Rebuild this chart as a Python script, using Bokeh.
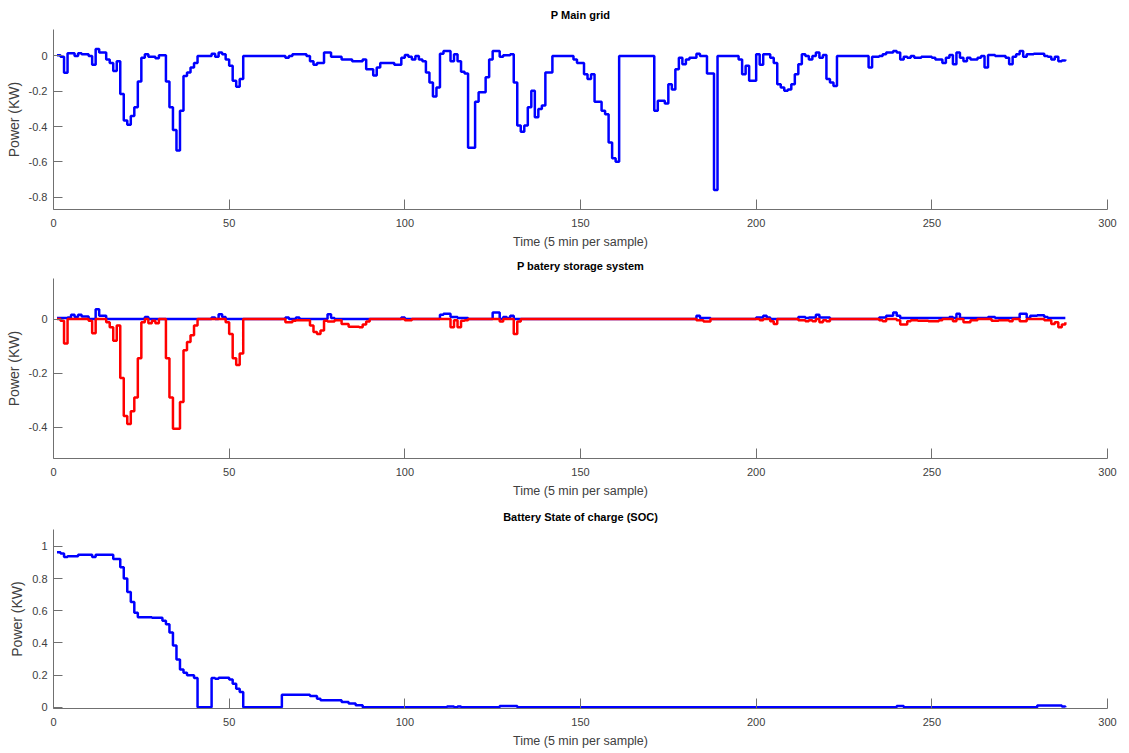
from bokeh.plotting import figure
from bokeh.layouts import column
from bokeh.models import Range1d, FixedTicker
from bokeh.embed import file_html
from bokeh.resources import INLINE

# sample numbers (5 min per sample) where each stairs series changes
grid_t = [1, 2, 3, 4, 6, 7, 8, 10, 11, 12, 13, 15, 16, 17, 18, 19, 20, 21, 22, 23,
          24, 25, 26, 27, 29, 30, 32, 33, 34, 35, 36, 37, 38, 39, 40, 41, 45, 46, 47, 48,
          49, 50, 51, 52, 53, 54, 66, 67, 68, 72, 73, 74, 75, 77, 79, 82, 85, 88, 89, 91,
          92, 93, 97, 99, 100, 101, 102, 103, 104, 105, 106, 107, 108, 109, 110, 111, 113, 114, 115, 116,
          117, 118, 120, 121, 123, 124, 125, 127, 128, 130, 131, 132, 133, 134, 135, 136, 137, 138, 139, 140,
          142, 148, 149, 151, 152, 153, 154, 156, 157, 158, 159, 160, 161, 171, 172, 174, 175, 176, 177, 178,
          179, 180, 181, 183, 184, 186, 188, 189, 195, 196, 197, 198, 200, 201, 202, 204, 205, 206, 207, 208,
          209, 210, 211, 212, 213, 214, 215, 216, 217, 218, 219, 220, 221, 222, 223, 232, 233, 235, 236, 237,
          239, 240, 241, 242, 243, 244, 245, 247, 250, 251, 253, 254, 255, 256, 257, 258, 259, 260, 261, 263,
          264, 265, 266, 268, 271, 272, 273, 274, 275, 276, 277, 279, 282, 283, 284, 285, 286, 287, 288]
grid_p = [0.004, -0.004, -0.095, 0.015, 0.0, 0.015, 0.01, 0.0, -0.05, 0.04, 0.02, -0.02, -0.04, -0.085, -0.03, -0.216, -0.366, -0.39, -0.34, -0.29,
          -0.145, -0.01, 0.01, -0.005, -0.013, 0.004, -0.145, -0.29, -0.42, -0.535, -0.31, -0.113, -0.094, -0.066, -0.04, 0.0, 0.013, -0.005, 0.02, 0.01,
          -0.02, -0.056, -0.14, -0.175, -0.13, 0.0, -0.01, 0.0, 0.01, 0.0, -0.03, -0.05, -0.04, 0.02, -0.005, -0.02, -0.03, -0.02, -0.075, -0.11,
          -0.066, -0.04, -0.05, -0.01, 0.005, -0.005, -0.02, 0.0, -0.02, -0.03, -0.094, -0.15, -0.23, -0.178, 0.013, 0.028, -0.03, 0.01, -0.03, -0.09,
          -0.1, -0.52, -0.26, -0.205, -0.12, -0.02, 0.028, -0.005, 0.004, 0.01, -0.15, -0.394, -0.43, -0.394, -0.29, -0.197, -0.347, -0.3, -0.28, -0.094,
          0.0, -0.02, -0.04, -0.103, -0.13, -0.103, -0.26, -0.31, -0.33, -0.49, -0.58, -0.6, 0.0, -0.31, -0.254, -0.27, -0.16, -0.19, -0.075, -0.01,
          -0.047, -0.02, -0.01, 0.013, 0.0, -0.1, -0.76, 0.0, -0.02, -0.103, -0.056, -0.14, 0.01, -0.05, 0.01, -0.01, -0.04, -0.16, -0.178, -0.197,
          -0.19, -0.16, -0.103, -0.047, 0.01, 0.0, -0.02, 0.0, 0.02, -0.01, 0.006, -0.13, -0.15, -0.17, 0.0, -0.066, -0.005, 0.0, 0.01, 0.02,
          0.028, 0.02, -0.02, -0.005, -0.01, 0.0, -0.01, -0.005, -0.01, -0.02, -0.04, -0.01, 0.006, -0.047, 0.02, -0.01, -0.03, -0.01, -0.02, -0.01,
          0.0, -0.066, 0.006, 0.0, -0.01, -0.047, -0.005, 0.01, 0.028, -0.005, 0.01, 0.013, 0.0, -0.005, -0.02, -0.005, -0.03, -0.025, -0.02]

# battery: positive part (blue) and discharge (red)
charge_t = [1, 4, 5, 6, 7, 8, 10, 12, 13, 15, 26, 27, 45, 46, 47, 48, 49, 66, 67, 69,
            70, 78, 79, 80, 99, 100, 110, 111, 113, 115, 118, 125, 127, 128, 129, 130, 131, 183, 184, 187,
            200, 202, 203, 204, 212, 214, 215, 217, 218, 221, 235, 237, 239, 240, 241, 255, 256, 257, 258, 266,
            268, 275, 277, 278, 280, 282, 283, 288]
charge_p = [0.004, 0.006, 0.016, 0.008, 0.016, 0.01, 0.0, 0.036, 0.012, 0.0, 0.008, 0.0, 0.006, 0.0, 0.018, 0.008, 0.0, 0.006, 0.0, 0.006,
            0.0, 0.018, 0.004, 0.0, 0.006, 0.0, 0.016, 0.02, 0.008, 0.004, 0.0, 0.024, 0.0, 0.008, 0.004, 0.012, 0.0, 0.012, 0.004, 0.0,
            0.006, 0.012, 0.006, 0.0, 0.008, 0.004, 0.006, 0.016, 0.006, 0.0, 0.006, 0.012, 0.024, 0.012, 0.004, 0.008, 0.004, 0.02, 0.004, 0.008,
            0.004, 0.02, 0.004, 0.012, 0.014, 0.008, 0.004, 0.004]

discharge_t = [1, 2, 3, 4, 10, 11, 12, 15, 16, 17, 18, 19, 20, 21, 22, 23, 24, 25, 26, 27,
               28, 29, 30, 32, 33, 34, 36, 37, 38, 39, 40, 41, 49, 50, 51, 52, 53, 54, 66, 68,
               69, 73, 74, 75, 76, 77, 78, 80, 82, 84, 87, 88, 89, 90, 100, 102, 113, 114, 115, 116,
               117, 118, 127, 128, 131, 132, 133, 183, 185, 187, 201, 202, 204, 205, 206, 212, 214, 215, 216, 217,
               218, 219, 220, 221, 235, 236, 237, 240, 241, 243, 244, 246, 249, 252, 253, 256, 257, 259, 261, 263,
               267, 269, 272, 273, 275, 277, 282, 284, 285, 286, 287, 288]
discharge_p = [0.0, -0.006, -0.09, 0.0, -0.006, -0.052, 0.0, -0.012, -0.03, -0.08, -0.024, -0.218, -0.358, -0.388, -0.34, -0.29, -0.145, -0.012, 0.0, -0.015,
               -0.006, -0.015, 0.0, -0.145, -0.29, -0.405, -0.306, -0.115, -0.085, -0.06, -0.024, 0.0, -0.012, -0.055, -0.145, -0.17, -0.127, 0.0, -0.012, -0.006,
               -0.004, -0.024, -0.048, -0.055, -0.042, -0.006, -0.009, -0.004, -0.018, -0.028, -0.03, -0.02, -0.009, 0.0, -0.004, 0.0, -0.03, -0.004, -0.03, -0.006,
               -0.004, 0.0, -0.009, 0.0, -0.055, -0.009, 0.0, -0.004, -0.009, 0.0, -0.004, 0.0, -0.008, -0.018, 0.0, -0.004, -0.008, -0.004, -0.008, 0.0,
               -0.012, -0.004, -0.008, 0.0, -0.004, -0.008, 0.0, -0.004, -0.02, -0.008, -0.004, -0.006, -0.008, -0.004, 0.0, -0.008, 0.0, -0.012, -0.004, 0.0,
               -0.006, -0.004, -0.008, 0.0, -0.008, 0.0, -0.004, -0.018, -0.012, -0.03, -0.02, -0.012]

soc_t = [1, 2, 3, 4, 7, 11, 12, 17, 19, 20, 21, 22, 23, 24, 28, 31, 32, 33, 34, 35,
         36, 37, 38, 40, 41, 45, 46, 47, 50, 51, 52, 53, 54, 65, 73, 75, 76, 82, 84, 86,
         88, 112, 114, 115, 116, 127, 132, 240, 242, 280, 287, 288]
soc_v = [0.963, 0.955, 0.934, 0.938, 0.948, 0.934, 0.948, 0.922, 0.87, 0.8, 0.716, 0.654, 0.588, 0.56, 0.557, 0.537, 0.516, 0.465, 0.383, 0.296,
         0.235, 0.214, 0.198, 0.181, 0.0, 0.181, 0.177, 0.183, 0.173, 0.146, 0.115, 0.095, 0.0, 0.078, 0.07, 0.053, 0.043, 0.033, 0.023, 0.012,
         0.0, 0.005, 0.0, 0.004, 0.0, 0.008, 0.0, 0.008, 0.0, 0.01, 0.005, 0.0]

x_ticks = [0, 50, 100, 150, 200, 250, 300]
grid_ticks = [-0.8, -0.6, -0.4, -0.2, 0]
batt_ticks = [-0.4, -0.2, 0]
soc_ticks = [0, 0.2, 0.4, 0.6, 0.8, 1]

FONT = "Liberation Sans"
TXT = "#404040"


def panel(title, y_lo, y_hi, yticks, top, fh, standoff, valign="bottom"):
    p = figure(frame_width=1054, frame_height=fh,
               x_range=Range1d(0, 300), y_range=Range1d(y_lo, y_hi),
               output_backend="svg", toolbar_location=None,
               min_border_left=53, min_border_right=14,
               min_border_top=top, min_border_bottom=40)
    p.title.text = title
    p.title.align = "center"
    p.title.vertical_align = valign
    p.title.text_font = FONT
    p.title.text_font_size = "11px"
    p.title.text_font_style = "bold"
    p.title.text_color = "black"
    p.title.standoff = standoff
    p.grid.visible = False
    p.outline_line_color = None

    for ax in (p.xaxis[0], p.yaxis[0]):
        ax.axis_line_color = "#707070"
        ax.major_tick_line_color = "#707070"
        ax.major_tick_out = 0
        ax.minor_tick_line_color = None
        ax.major_label_text_font = FONT
        ax.major_label_text_font_size = "11px"
        ax.major_label_text_color = TXT
        ax.axis_label_text_font = FONT
        ax.axis_label_text_font_style = "normal"
        ax.axis_label_text_color = TXT

    p.xaxis.ticker = FixedTicker(ticks=x_ticks)
    p.xaxis.major_tick_in = 10
    p.xaxis.major_label_standoff = 9
    p.xaxis.axis_label = "Time (5 min per sample)"
    p.xaxis.axis_label_text_font_size = "12.5px"
    p.xaxis.axis_label_standoff = 5

    p.yaxis.ticker = FixedTicker(ticks=yticks)
    p.yaxis.major_label_overrides = {t: f"{t:g}" for t in yticks}
    p.yaxis.major_tick_in = 9
    p.yaxis.major_label_standoff = 6
    p.yaxis.axis_label = "Power (KW)"
    p.yaxis.axis_label_text_font_size = "14px"
    p.yaxis.axis_label_standoff = 4
    return p


p1 = panel("P Main grid", -0.87, 0.15, grid_ticks, 29, 180, 14, "top")
p1.step(grid_t, grid_p, mode="after", line_color="#0000FF", line_width=2.5)

p2 = panel("P batery storage system", -0.515, 0.15, batt_ticks, 26, 180, 13)
p2.step(charge_t, charge_p, mode="after", line_color="#0000FF", line_width=2.5)
p2.step(discharge_t, discharge_p, mode="after", line_color="#FF0000", line_width=2.5)

p3 = panel("Battery State of charge (SOC)", -0.008, 1.105, soc_ticks, 29, 179, 13)
p3.step(soc_t, soc_v, mode="after", line_color="#0000FF", line_width=2.5)

p = column(p1, p2, p3, spacing=0)

open("out.html", "w").write(file_html(p, INLINE))
